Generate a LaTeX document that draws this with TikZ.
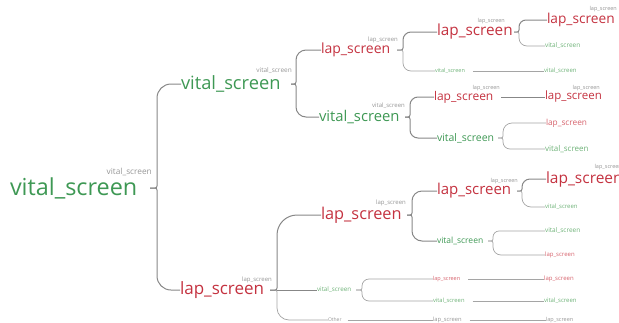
\documentclass[tikz,border=0pt]{standalone}
\usepackage{fontspec}
\setmainfont{Open Sans}
\definecolor{vg}{RGB}{62,152,84}
\definecolor{lr}{RGB}{196,50,64}
\definecolor{vgl}{RGB}{110,178,120}
\definecolor{lrl}{RGB}{214,98,108}
\definecolor{ln}{RGB}{135,135,135}
\definecolor{lnl}{RGB}{165,165,165}
\definecolor{lb}{RGB}{150,150,150}
\newcommand\brc[5][]{\draw[conn,#1] (#2) [rounded corners=2pt] -- (#3) [rounded corners=#5] -- (#3 |- #4.west) -- (#4.west);}
\begin{document}
\begin{tikzpicture}[x=1pt,y=-1pt,
  nd/.style={inner sep=0pt, outer sep=0pt, anchor=west},
  gn/.style={text=vg}, rd/.style={text=lr}, gl/.style={text=vgl}, rl/.style={text=lrl}, gy/.style={text=lb},
  fs/.style={font=\fontsize{#1}{#1}\selectfont},
  lab/.style={inner sep=0pt, anchor=east, text=lb, font=\fontsize{#1}{#1}\selectfont},
  conn/.style={draw=ln, line width=1pt},
  thin/.style={draw=lnl, line width=0.7pt}]
\useasboundingbox (0,0) rectangle (619,322);
% level 0
\node[nd,gn,fs=23.4] (A) at (10,188) {vital\_screen};
\node[lab=8.3] (lA) at (152,172) {vital\_screen};
% level 1
\node[nd,gn,fs=18.3] (B1) at (181,84) {vital\_screen};
\node[lab=6.5] (lB1) at (292,71) {vital\_screen};
\node[nd,rd,fs=17] (B2) at (180,290) {lap\_screen};
\node[lab=6] (lB2) at (272,279.5) {lap\_screen};
% level 2
\node[nd,rd,fs=14] (C1) at (321,50) {lap\_screen};
\node[lab=6] (lC1) at (398,40) {lap\_screen};
\node[nd,gn,fs=14.8] (C2) at (319,117) {vital\_screen};
\node[lab=6] (lC2) at (405,106) {vital\_screen};
\node[nd,rd,fs=16.3] (C3) at (321,215) {lap\_screen};
\node[lab=6] (lC3) at (406,203) {lap\_screen};
\node[nd,gl,fs=6.3] (C4) at (317,290) {vital\_screen};
\node[nd,gy,fs=5] (C5) at (328,320) {Other};
% level 3
\node[nd,rd,fs=15.3] (D1) at (437,32) {lap\_screen};
\node[lab=5.5] (lD1) at (505,21.5) {lap\_screen};
\node[nd,gl,fs=5.5] (D2) at (435,71) {vital\_screen};
\node[nd,rd,fs=12] (D3) at (434,97) {lap\_screen};
\node[lab=5.5] (lD3) at (500,88) {lap\_screen};
\node[nd,gn,fs=10.5] (D4) at (437,138) {vital\_screen};
\node[nd,rd,fs=15] (D5) at (437,191) {lap\_screen};
\node[lab=5.5] (lD5) at (518,181) {lap\_screen};
\node[nd,gn,fs=8.5] (D6) at (437,241) {vital\_screen};
\node[nd,rl,fs=5.5] (D7) at (433,279) {lap\_screen};
\node[nd,gl,fs=5.8] (D8) at (433,301) {vital\_screen};
\node[nd,gy,fs=5.8] (D9) at (433,320) {lap\_screen};
% level 4
\node[nd,rd,fs=13.7] (E1) at (547,20) {lap\_screen};
\node[lab=5.5] (lE1) at (617,9) {lap\_screen};
\node[nd,gl,fs=6.5] (E2) at (545,46) {vital\_screen};
\node[nd,gl,fs=6] (E3) at (544,71) {vital\_screen};
\node[nd,rd,fs=11.5] (E4) at (545,97) {lap\_screen};
\node[lab=5.5] (lE4) at (600,88) {lap\_screen};
\node[nd,rl,fs=8.3] (E5) at (546,123) {lap\_screen};
\node[nd,gl,fs=8] (E6) at (545,149) {vital\_screen};
\node[nd,rd,fs=15.5] (E7) at (546,179) {lap\_screen};
\node[lab=5.5] (lE7) at (622,167.5) {lap\_screen};
\node[nd,gl,fs=6] (E8) at (545,207) {vital\_screen};
\node[nd,gl,fs=6.5] (E9) at (545,231) {vital\_screen};
\node[nd,rl,fs=6] (E10) at (545,255) {lap\_screen};
\node[nd,rl,fs=6] (E11) at (544,279) {lap\_screen};
\node[nd,gl,fs=6] (E12) at (544,301) {vital\_screen};
\node[nd,gy,fs=5.5] (E13) at (546,320) {lap\_screen};
% bracket coordinates
\coordinate (kA) at (150,188); \coordinate (vA) at (157,188);
\coordinate (kB1) at (291,84); \coordinate (vB1) at (296,84);
\coordinate (kB2) at (270,290); \coordinate (vB2) at (277,290);
\coordinate (kC1) at (397,50); \coordinate (vC1) at (403,50);
\coordinate (kC2) at (405,117); \coordinate (vC2) at (410,117);
\coordinate (kC3) at (407,215); \coordinate (vC3) at (412,215);
\coordinate (kC4) at (356,290); \coordinate (vC4) at (362,290);
\coordinate (kD1) at (514,32); \coordinate (vD1) at (519,32);
\coordinate (kD4) at (498,138); \coordinate (vD4) at (503,138);
\coordinate (kD5) at (517,191); \coordinate (vD5) at (522,191);
\coordinate (kD6) at (488,241); \coordinate (vD6) at (493,241);
% connectors
\brc{kA}{vA}{B1}{14pt}
\brc{kA}{vA}{B2}{14pt}
\brc{kB1}{vB1}{C1}{10pt}
\brc{kB1}{vB1}{C2}{10pt}
\brc{kB2}{vB2}{C3}{20pt}
\draw[conn] (kB2) -- (C4.west);
\brc[thin]{kB2}{vB2}{C5}{12pt}
\brc{kC1}{vC1}{D1}{8pt}
\brc[thin]{kC1}{vC1}{D2}{8pt}
\brc{kC2}{vC2}{D3}{8pt}
\brc{kC2}{vC2}{D4}{8pt}
\brc{kC3}{vC3}{D5}{10pt}
\brc{kC3}{vC3}{D6}{10pt}
\brc[thin]{kC4}{vC4}{D7}{7pt}
\brc[thin]{kC4}{vC4}{D8}{7pt}
\draw[thin] (C5.east) ++(6,0) -- (D9.west);
\brc{kD1}{vD1}{E1}{7pt}
\brc[thin]{kD1}{vD1}{E2}{8pt}
\draw[thin] ([xshift=8pt]D2.east) -- (E3.west);
\draw[conn] ([xshift=8pt]D3.east) -- (E4.west);
\brc[thin]{kD4}{vD4}{E5}{9pt}
\brc[thin]{kD4}{vD4}{E6}{7pt}
\brc{kD5}{vD5}{E7}{8pt}
\brc[thin]{kD5}{vD5}{E8}{9pt}
\brc[thin]{kD6}{vD6}{E9}{6pt}
\brc[thin]{kD6}{vD6}{E10}{8pt}
\draw[thin] ([xshift=8pt]D7.east) -- (E11.west);
\draw[thin] ([xshift=8pt]D8.east) -- (E12.west);
\draw[thin] ([xshift=8pt]D9.east) -- (E13.west);
\end{tikzpicture}
\end{document}
